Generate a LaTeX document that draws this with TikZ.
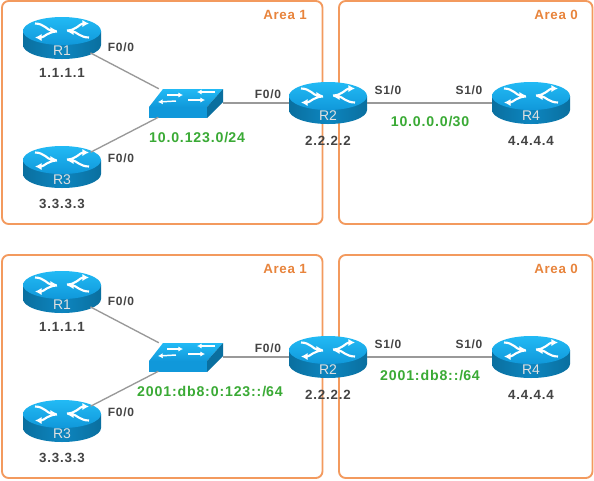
\documentclass[tikz,border=0pt]{standalone}
\usepackage{fontspec}
\setmainfont{Liberation Sans}
\usepackage{xcolor}
\usetikzlibrary{shapes.geometric, arrows.meta, positioning}

\definecolor{areaorange}{HTML}{F39A5E}
\definecolor{areatext}{HTML}{E8843C}
\definecolor{netgreen}{HTML}{3AAA35}
\definecolor{iconlight}{HTML}{22BAF5}
\definecolor{iconmid}{HTML}{1098DA}
\definecolor{icondark}{HTML}{0A6F9F}
\definecolor{textgray}{HTML}{444444}

% one router icon: centre, node name, label
\newcommand{\routericon}[3]{
  \begin{scope}[shift={(#1)}]
    \shade[left color=icondark, right color=icondark, middle color=iconmid!55!icondark]
      (-39,-7) -- (-39,7) arc[start angle=180, end angle=0, x radius=39, y radius=14] -- (39,-7) -- cycle;
    \shade[top color=iconlight, bottom color=iconmid] (0,-7) ellipse[x radius=39, y radius=14];
    \draw[iconarrow] (-27,-14.5) to[out=0, in=180] (-5,-7.5);
    \draw[iconarrow] (27,-0.5) to[out=180, in=0] (5,-6.5);
    \draw[iconarrow] (-5,-6.5) to[out=180, in=0] (-27,-0.5);
    \draw[iconarrow] (5,-7.5) to[out=0, in=180] (27,-14.5);
    \node[router] (#2) at (0,0) {};
    \node[devname] at (0,13) {#3};
  \end{scope}
}

\begin{document}
\begin{tikzpicture}[
  x=0.75pt, y=-0.75pt,
  area/.style={draw=areaorange, line width=1.4pt, rounded corners=5pt},
  areaname/.style={font=\bfseries\fontsize{10}{12}\selectfont\addfontfeature{LetterSpace=5}, text=areatext, inner sep=0pt},
  router/.style={ellipse, minimum width=58.5pt, minimum height=32pt, inner sep=0pt},
  devname/.style={font=\fontsize{10.5}{12}\selectfont, text=white!88!black, inner sep=0pt},
  iconarrow/.style={-{Latex[length=5pt,width=5.5pt]}, white, line width=1.6pt},
  swarrow/.style={-{Latex[length=3.5pt,width=4pt]}, white, line width=1.1pt},
  swbox/.style={minimum width=55pt, minimum height=21pt, inner sep=0pt},
  ifname/.style={font=\bfseries\fontsize{9}{11}\selectfont\addfontfeature{LetterSpace=6}, text=textgray, inner sep=0pt},
  rid/.style={font=\bfseries\fontsize{10}{12}\selectfont\addfontfeature{LetterSpace=6}, text=textgray, inner sep=0pt},
  subnet/.style={font=\bfseries\fontsize{10.6}{12}\selectfont\addfontfeature{LetterSpace=6}, text=netgreen, inner sep=0pt},
  link/.style={draw=gray!80, line width=1pt}
]
\useasboundingbox (0,0) rectangle (594,480);
\fill[white] (0,0) rectangle (594,480);

\foreach \off/\n/\lan/\lanx/\wan in {0/a/10.0.123.0\slash 24/197/10.0.0.0\slash 30, 254/b/2001:db8:0:123::\slash 64/210/2001:db8::\slash 64} {
  \begin{scope}[yshift=-\off*0.75pt]
    \draw[area] (2,1) rectangle (322.5,224);
    \draw[area] (339,1) rectangle (592.5,224);
    \node[areaname] (area1\n) at (285,15) {Area 1};
    \node[areaname] (area0\n) at (556,15) {Area 0};

    \routericon{62,38}{r1\n}{R1}
    \routericon{62,167}{r3\n}{R3}
    \routericon{328,103}{r2\n}{R2}
    \routericon{531,103}{r4\n}{R4}

    % switch
    \shade[top color=iconlight, bottom color=iconmid] (149,107) -- (163,89) -- (223,89) -- (207,107) -- cycle;
    \fill[iconmid] (149,107) -- (207,107) -- (207,118) -- (149,118) -- cycle;
    \fill[icondark] (207,107) -- (223,89) -- (223,102) -- (207,118) -- cycle;
    \draw[swarrow] (167,95) -- (183,95);
    \draw[swarrow] (215,92) -- (197,92);
    \draw[swarrow] (176,101) -- (158,102);
    \draw[swarrow] (188,100) -- (205,100);
    \node[swbox] (sw\n) at (186,103) {};

    \draw[link] (r1\n) -- (sw\n);
    \draw[link] (r3\n) -- (sw\n);
    \draw[link] (sw\n) -- (r2\n);
    \draw[link] (r2\n) -- (r4\n);

    \node[ifname] (if1\n) at (121,47) {F0/0};
    \node[ifname] (if3\n) at (121,158) {F0/0};
    \node[ifname] (if2\n) at (268,94) {F0/0};
    \node[ifname] (ifw\n) at (388,90) {S1/0};
    \node[ifname] (if4\n) at (469,90) {S1/0};

    \node[rid] (id1\n) at (62,73) {1.1.1.1};
    \node[rid] (id3\n) at (62,204) {3.3.3.3};
    \node[rid] (id2\n) at (328,141) {2.2.2.2};
    \node[rid] (id4\n) at (531,141) {4.4.4.4};

    \node[subnet] (lan\n) at (\lanx,138) {\lan};
    \node[subnet] (wan\n) at (430,122) {\wan};
  \end{scope}
}
\end{tikzpicture}
\end{document}
